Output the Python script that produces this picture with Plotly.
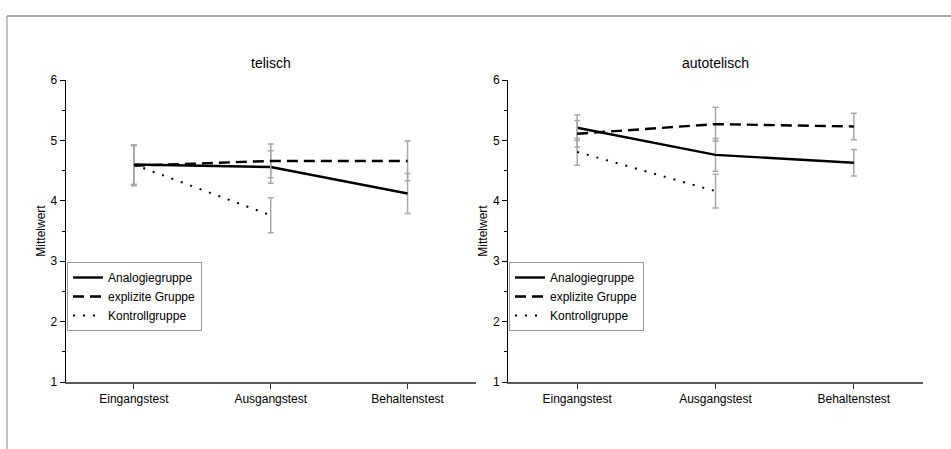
import plotly.graph_objects as go

# ---------------- data ----------------
categories = ["Eingangstest", "Ausgangstest", "Behaltenstest"]
series_names = ["Analogiegruppe", "explizite Gruppe", "Kontrollgruppe"]
panel_titles = ["telisch", "autotelisch"]

telisch_analogie = [4.60, 4.56, 4.12]
telisch_analogie_err = [0.33, 0.27, 0.33]
telisch_explizit = [4.58, 4.66, 4.66]
telisch_explizit_err = [0.33, 0.28, 0.33]
telisch_kontroll = [4.60, 3.76, None]
telisch_kontroll_err = [0.33, 0.29, None]

auto_analogie = [5.21, 4.76, 4.63]
auto_analogie_err = [0.21, 0.27, 0.22]
auto_explizit = [5.11, 5.27, 5.23]
auto_explizit_err = [0.22, 0.28, 0.22]
auto_kontroll = [4.81, 4.16, None]
auto_kontroll_err = [0.22, 0.28, None]

y_ticks = [1, 2, 3, 4, 5, 6]

# ---------------- styling ----------------
W, H = 951, 449
FONT = "Liberation Sans"
styles = [
    dict(color="black", width=2.4, dash="solid"),
    dict(color="black", width=2.4, dash="11px,6px"),
    dict(color="black", width=2.0, dash="2px,8px"),
]
ERR_COLOR = "#a8a8a8"

def px_x(p):
    return p / W

def px_y(p):
    return 1 - p / H

fig = go.Figure()

panels = [
    ([telisch_analogie, telisch_explizit, telisch_kontroll],
     [telisch_analogie_err, telisch_explizit_err, telisch_kontroll_err], "x", "y", "legend"),
    ([auto_analogie, auto_explizit, auto_kontroll],
     [auto_analogie_err, auto_explizit_err, auto_kontroll_err], "x2", "y2", "legend2"),
]

for vals, errs, xa, ya, leg in panels:
    for name, v, e, st in zip(series_names, vals, errs, styles):
        fig.add_trace(go.Scatter(
            x=categories, y=v, name=name, mode="lines",
            line=st, xaxis=xa, yaxis=ya, legend=leg,
            error_y=dict(type="data", array=e, color=ERR_COLOR,
                         thickness=1.5, width=3),
            hoverinfo="skip",
        ))

xaxis_common = dict(
    type="category", range=[-0.5, 2.5], showgrid=False, zeroline=False,
    showline=True, linecolor="#5a5a5a", linewidth=1.5,
    ticks="outside", ticklen=5, tickcolor="#333", tickwidth=1,
    tickfont=dict(family=FONT, size=12, color="black"),
    automargin=False, fixedrange=True,
)
yaxis_common = dict(
    range=[1, 6], tickvals=y_ticks, showgrid=False, zeroline=False,
    showline=True, linecolor="black", linewidth=1,
    ticks="outside", ticklen=5, tickcolor="black", tickwidth=1,
    minor=dict(dtick=0.5, ticks="outside", ticklen=3, tickcolor="black"),
    tickfont=dict(family=FONT, size=12, color="black"),
    title=dict(text="Mittelwert", font=dict(family=FONT, size=12, color="black"), standoff=2),
    automargin=False, fixedrange=True,
)

y_dom = [px_y(382), px_y(80)]
fig.update_layout(
    template="none",
    width=W, height=H, margin=dict(l=0, r=0, t=0, b=0, pad=0),
    paper_bgcolor="white", plot_bgcolor="white",
    font=dict(family=FONT, size=12, color="black"),
    xaxis=dict(xaxis_common, domain=[px_x(65.5), px_x(476)], anchor="y"),
    yaxis=dict(yaxis_common, domain=y_dom, anchor="x"),
    xaxis2=dict(xaxis_common, domain=[px_x(508), px_x(923)], anchor="y2"),
    yaxis2=dict(yaxis_common, domain=y_dom, anchor="x2"),
    legend=dict(x=px_x(67), y=px_y(262), xanchor="left", yanchor="top",
                bgcolor="white", bordercolor="#999", borderwidth=1,
                font=dict(family=FONT, size=12), tracegroupgap=0),
    legend2=dict(x=px_x(509), y=px_y(262), xanchor="left", yanchor="top",
                 bgcolor="white", bordercolor="#999", borderwidth=1,
                 font=dict(family=FONT, size=12), tracegroupgap=0),
    showlegend=True,
)

# panel titles
for title, xa in zip(panel_titles, ["x", "x2"]):
    fig.add_annotation(text=title, xref=xa + " domain", yref="paper",
                       x=0.5, y=px_y(63), xanchor="center", yanchor="middle",
                       showarrow=False, font=dict(family=FONT, size=14, color="black"))

# outer frame lines (top and left)
fig.add_shape(type="line", xref="paper", yref="paper",
              x0=px_x(7), x1=1.01, y0=px_y(16), y1=px_y(16),
              line=dict(color="#888", width=1.5))
fig.add_shape(type="line", xref="paper", yref="paper",
              x0=px_x(7), x1=px_x(7), y0=-0.01, y1=px_y(16),
              line=dict(color="#888", width=1))

fig.write_html("out.html", config={"displayModeBar": False},
               post_script="document.body.style.margin='0px';")
